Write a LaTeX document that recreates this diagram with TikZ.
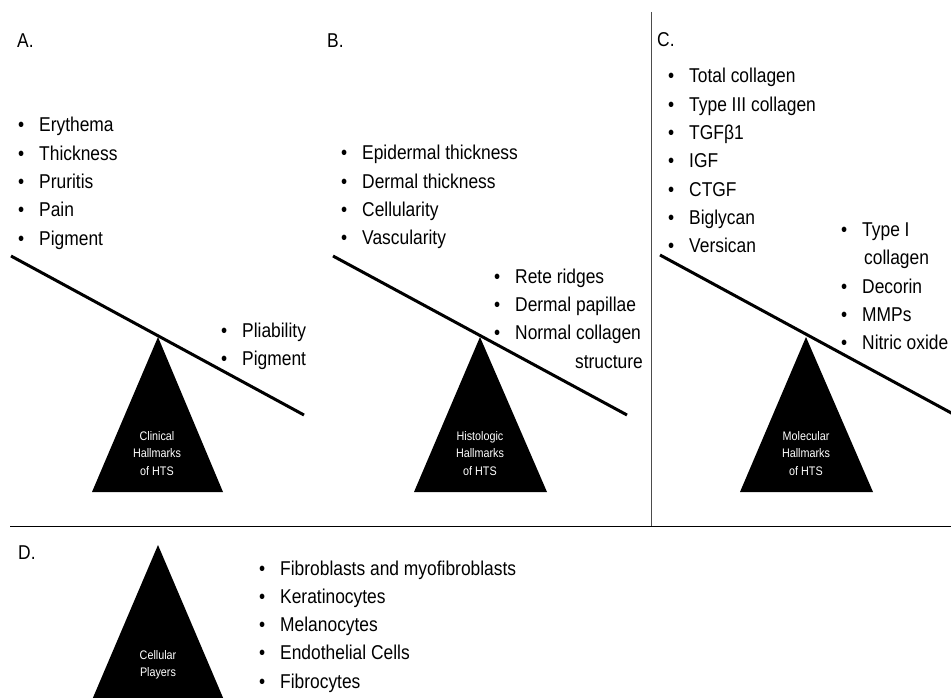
\documentclass[tikz,border=0pt]{standalone}
\usepackage{fontspec}
\setmainfont{Liberation Sans}[FakeStretch=0.87]
\newcommand{\bl}{\llap{•\hspace{15pt}}}
\begin{document}
\begin{tikzpicture}[x=1pt,y=-1pt,
  item/.style={anchor=base west, inner sep=0pt, text=black, font=\fontsize{20}{24}\selectfont},
  itemr/.style={item, anchor=base east},
  tlabel/.style={anchor=base, inner sep=0pt, text=white, font=\fontsize{12.4}{15}\selectfont},
  tri/.style={fill=black},
  beam/.style={draw=black, line width=3pt},
  divider/.style={draw=black, line width=1pt}
]
\useasboundingbox (0,0) rectangle (951,698);

% dividers
\coordinate (vtop) at (651,12);
\coordinate (vbot) at (651,526);
\coordinate (hl) at (10,526);
\coordinate (hr) at (951,526);
\draw[divider, draw=black!70] (vtop) -- (vbot);
\draw[divider] (hl) -- (hr);

% panel labels
\node[item] (labA) at (17,48) {A.};
\node[item] (labB) at (327,48) {B.};
\node[item] (labC) at (657,47) {C.};
\node[item] (labD) at (18,559) {D.};

% ---------- Panel A ----------
\coordinate (a1) at (11,256);
\coordinate (a2) at (304,415);
\draw[beam] (a1) -- (a2);
\coordinate (atop) at (158,337);
\coordinate (abl) at (92,492);
\coordinate (abr) at (223,492);
\fill[tri] (atop) -- (abr) -- (abl) -- cycle;
\node[tlabel] (ta1) at (157,440) {Clinical};
\node[tlabel] (ta2) at (157,457.5) {Hallmarks};
\node[tlabel] (ta3) at (157,475) {of HTS};
\foreach \t [count=\i from 0] in {Erythema,Thickness,Pruritis,Pain,Pigment}
  \node[item] (al\i) at (39,{132+28.3*\i}) {\bl\t};
\foreach \t [count=\i from 0] in {Pliability,Pigment}
  \node[item] (ar\i) at (242,{337+28.3*\i}) {\bl\t};

% ---------- Panel B ----------
\coordinate (b1) at (333,256);
\coordinate (b2) at (627,415);
\draw[beam] (b1) -- (b2);
\coordinate (btop) at (480,337);
\coordinate (bbl) at (414,492);
\coordinate (bbr) at (547,492);
\fill[tri] (btop) -- (bbr) -- (bbl) -- cycle;
\node[tlabel] (tb1) at (480,440) {Histologic};
\node[tlabel] (tb2) at (480,457.5) {Hallmarks};
\node[tlabel] (tb3) at (480,475) {of HTS};
\foreach \t [count=\i from 0] in {Epidermal thickness,Dermal thickness,Cellularity,Vascularity}
  \node[item] (bl\i) at (362,{160+28.3*\i}) {\bl\t};
\foreach \t [count=\i from 0] in {Rete ridges,Dermal papillae,Normal collagen}
  \node[item] (br\i) at (515,{283+28.3*\i}) {\bl\t};
\node[itemr] (br3) at (643,368) {structure};

% ---------- Panel C ----------
\coordinate (c1) at (660,255);
\coordinate (c2) at (955,415);
\draw[beam] (c1) -- (c2);
\coordinate (ctop) at (806,337);
\coordinate (cbl) at (740,492);
\coordinate (cbr) at (873,492);
\fill[tri] (ctop) -- (cbr) -- (cbl) -- cycle;
\node[tlabel] (tc1) at (806,440) {Molecular};
\node[tlabel] (tc2) at (806,457.5) {Hallmarks};
\node[tlabel] (tc3) at (806,475) {of HTS};
\foreach \t [count=\i from 0] in {Total collagen,Type III collagen,TGFβ1,IGF,CTGF,Biglycan,Versican}
  \node[item] (cl\i) at (689,{83+28.3*\i}) {\bl\t};
\node[item] (cr0) at (862,236.5) {\bl Type I};
\node[item] (cr1) at (864,264.8) {collagen};
\node[item] (cr2) at (862,293.1) {\bl Decorin};
\node[item] (cr3) at (862,321.4) {\bl MMPs};
\node[item] (cr4) at (862,349.7) {\bl Nitric oxide};

% ---------- Panel D ----------
\coordinate (dtop) at (158,545);
\coordinate (dbl) at (92,700);
\coordinate (dbr) at (224,700);
\fill[tri] (dtop) -- (dbr) -- (dbl) -- cycle;
\node[tlabel] (td1) at (158,659.5) {Cellular};
\node[tlabel] (td2) at (158,676.5) {Players};
\foreach \t [count=\i from 0] in {Fibroblasts and myofibroblasts,Keratinocytes,Melanocytes,Endothelial Cells,Fibrocytes}
  \node[item] (dl\i) at (280,{575+28.3*\i}) {\bl\t};
\end{tikzpicture}
\end{document}
